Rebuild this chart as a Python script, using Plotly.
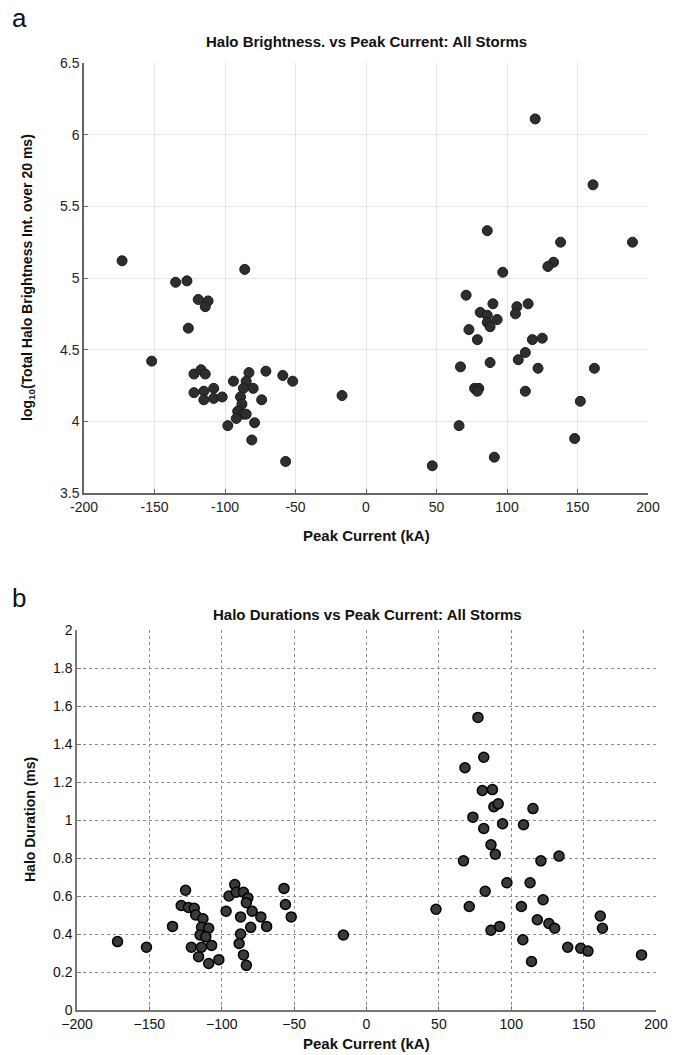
import plotly.graph_objects as go

# ---- Panel a: Halo brightness vs peak current ----
peak_current_a = [-173, -135, -127, -119, -112, -114, -86, -126, -152, -122, -117, -114,
                  -122, -115, -108, -115, -108, -102, -98, -94, -83, -85, -80, -87, -89,
                  -88, -91, -87, -92, -85, -74, -79, -81, -71, -59, -52, -57, -17,
                  120, 161, 86, 138, 189, 133, 129, 97, 71, 90, 115, 107, 106, 81, 86,
                  93, 86, 88, 73, 79, 118, 125, 113, 108, 67, 88, 122, 162, 77, 80, 79,
                  113, 152, 66, 148, 91, 47]
log_brightness = [5.12, 4.97, 4.98, 4.85, 4.84, 4.80, 5.06, 4.65, 4.42, 4.33, 4.36, 4.33,
                  4.20, 4.21, 4.23, 4.15, 4.16, 4.17, 3.97, 4.28, 4.34, 4.28, 4.23, 4.23, 4.17,
                  4.12, 4.07, 4.05, 4.02, 4.05, 4.15, 3.99, 3.87, 4.35, 4.32, 4.28, 3.72, 4.18,
                  6.11, 5.65, 5.33, 5.25, 5.25, 5.11, 5.08, 5.04, 4.88, 4.82, 4.82, 4.80, 4.75,
                  4.76, 4.74, 4.71, 4.69, 4.66, 4.64, 4.57, 4.57, 4.58, 4.48, 4.43, 4.38, 4.41,
                  4.37, 4.37, 4.23, 4.23, 4.21, 4.21, 4.14, 3.97, 3.88, 3.75, 3.69]

# ---- Panel b: Halo duration vs peak current ----
peak_current_b = [-172, -152, -134, -125, -128, -123, -119, -118, -113, -114, -109, -115,
                  -111, -121, -114, -107, -116, -109, -102, -97, -91, -95, -90, -85, -82,
                  -83, -79, -87, -73, -69, -80, -87, -88, -85, -83, -57, -56, -52, -16,
                  77, 81, 68, 80, 87, 88, 91, 115, 73.5, 81, 94, 108.5, 86, 89, 67, 120.5,
                  133, 97, 113, 82, 122, 48, 71, 107, 161.5, 118, 126, 130, 163, 86, 92,
                  108, 139, 148, 153, 190, 114]
halo_duration = [0.36, 0.33, 0.44, 0.63, 0.55, 0.54, 0.535, 0.50, 0.48, 0.435, 0.43, 0.395,
                 0.385, 0.33, 0.33, 0.34, 0.28, 0.245, 0.265, 0.52, 0.66, 0.60, 0.62, 0.62, 0.59,
                 0.565, 0.52, 0.49, 0.49, 0.44, 0.435, 0.40, 0.35, 0.29, 0.235, 0.64, 0.555, 0.49,
                 0.395,
                 1.54, 1.33, 1.275, 1.155, 1.16, 1.07, 1.085, 1.06, 1.015, 0.955, 0.98, 0.975,
                 0.87, 0.82, 0.785, 0.785, 0.81, 0.67, 0.67, 0.625, 0.58, 0.53, 0.545, 0.545,
                 0.495, 0.475, 0.455, 0.43, 0.43, 0.42, 0.44, 0.37, 0.33, 0.325, 0.31, 0.29, 0.255]

x_ticks = [-200, -150, -100, -50, 0, 50, 100, 150, 200]
y_ticks_a = [3.5, 4, 4.5, 5, 5.5, 6, 6.5]
y_ticks_b = [0, 0.2, 0.4, 0.6, 0.8, 1, 1.2, 1.4, 1.6, 1.8, 2]

FONT = "Liberation Sans, Arial, sans-serif"
W, H = 684, 1055

fig = go.Figure()
fig.add_trace(go.Scatter(
    x=peak_current_a, y=log_brightness, mode="markers", xaxis="x", yaxis="y",
    marker=dict(size=10, color="#2e2e2e", line=dict(color="#1a1a1a", width=1)),
    showlegend=False))
fig.add_trace(go.Scatter(
    x=peak_current_b, y=halo_duration, mode="markers", xaxis="x2", yaxis="y2",
    marker=dict(size=10, color="#3a3a3a", line=dict(color="#000000", width=1.5)),
    showlegend=False))

def px_x(p):
    return p / W

def px_y(p):
    return 1 - p / H

tickfont = dict(family=FONT, size=14, color="#222")

fig.update_layout(
    width=W, height=H, margin=dict(l=0, r=0, t=0, b=0, autoexpand=False),
    paper_bgcolor="white", plot_bgcolor="white",
    font=dict(family=FONT, color="#111"),
    xaxis=dict(domain=[px_x(84), px_x(648)], range=[-200, 200], tickvals=x_ticks,
               ticktext=[str(v) for v in x_ticks], showgrid=True, gridcolor="#e6e6e6",
               gridwidth=1, zeroline=False, showline=True, linecolor="#666", linewidth=1.5,
               ticks="inside", ticklen=4, tickcolor="#666", tickfont=tickfont,
               anchor="y", fixedrange=True, automargin=False),
    yaxis=dict(domain=[px_y(493), px_y(63)], range=[3.5, 6.5], tickvals=y_ticks_a,
               ticktext=[("%g" % v) for v in y_ticks_a], showgrid=True, gridcolor="#e6e6e6",
               gridwidth=1, zeroline=False, showline=True, linecolor="#666", linewidth=1.5,
               ticks="inside", ticklen=4, tickcolor="#666", tickfont=tickfont,
               anchor="x", fixedrange=True, automargin=False),
    xaxis2=dict(domain=[px_x(77), px_x(656)], range=[-200, 200], tickvals=x_ticks,
                showgrid=True, gridcolor="#8a8a8a", griddash="dot", gridwidth=1.2,
                zeroline=False, showline=True, linecolor="#777", linewidth=1.5,
                ticks="inside", ticklen=4, tickcolor="#777",
                tickfont=dict(family=FONT, size=14, color="#111"),
                anchor="y2", fixedrange=True, automargin=False),
    yaxis2=dict(domain=[px_y(1010), px_y(630)], range=[0, 2], tickvals=y_ticks_b,
                showgrid=True, gridcolor="#8a8a8a", griddash="dot", gridwidth=1.2,
                zeroline=False, showline=True, linecolor="#777", linewidth=1.5,
                ticks="inside", ticklen=4, tickcolor="#777",
                tickfont=dict(family=FONT, size=14, color="#111"),
                anchor="x2", fixedrange=True, automargin=False),
)

def ann(text, x, y, size, bold=False, angle=0, xanchor="center"):
    fig.add_annotation(text=("<b>%s</b>" % text) if bold else text,
                       x=px_x(x), y=px_y(y), xref="paper", yref="paper",
                       showarrow=False, textangle=angle, xanchor=xanchor, yanchor="middle",
                       font=dict(family=FONT, size=size, color="#111"))

ann("a", 10, 18, 26, xanchor="left")
ann("b", 10, 598, 26, xanchor="left")
ann("Halo Brightness. vs Peak Current: All Storms", 366, 42, 15, bold=True)
ann("Halo Durations vs Peak Current: All Storms", 367, 614, 15, bold=True)
ann("Peak Current (kA)", 366, 535, 15, bold=True)
ann("Peak Current (kA)", 366, 1043, 15, bold=True)
ann("log<sub>10</sub>(Total Halo Brightness Int. over 20 ms)", 28, 278, 14, bold=True, angle=-90)
ann("Halo Duration (ms)", 30, 820, 14, bold=True, angle=-90)

fig.write_html("out.html", config={"displayModeBar": False},
               post_script="document.body.style.margin='0';document.body.style.overflow='hidden';")
